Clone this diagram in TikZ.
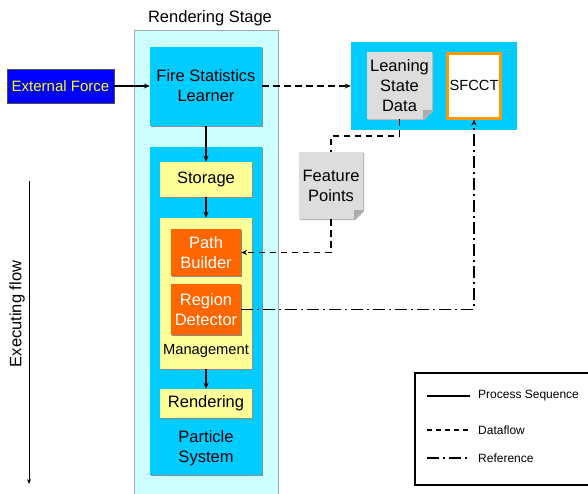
\documentclass[tikz,border=0pt]{standalone}
\usepackage{fontspec}
\setmainfont{Liberation Sans}
\usetikzlibrary{arrows.meta,shadows}
\definecolor{stagebg}{HTML}{CCFFFF}
\definecolor{cyanbox}{HTML}{00CCFF}
\definecolor{yelbox}{HTML}{FFFF99}
\definecolor{orabox}{HTML}{FF6600}
\definecolor{docgrey}{HTML}{DDDDDD}
\definecolor{foldgrey}{HTML}{AAAAAA}
\definecolor{sfcborder}{HTML}{FF9900}
\definecolor{extblue}{HTML}{0000FF}
\definecolor{extyellow}{HTML}{FFFF00}
\newcommand{\docshape}[2]{%
  \fill[black!30] ([xshift=1.2pt,yshift=-1.2pt]#1) -- ([xshift=1.2pt,yshift=-1.2pt]#2 |- #1) -- ([xshift=1.2pt,yshift=7.8pt]#2) -- ([xshift=-7.8pt,yshift=-1.2pt]#2) -- ([xshift=1.2pt,yshift=-1.2pt]#1 |- #2) -- cycle;
  \fill[docgrey] (#1) -- (#2 |- #1) -- ([yshift=9pt]#2) -- ([xshift=-9pt]#2) -- (#1 |- #2) -- cycle;
  \fill[foldgrey] ([yshift=9pt]#2) -- ([xshift=-9pt]#2) -- ([xshift=-9pt,yshift=9pt]#2) -- cycle;}
\begin{document}
\begin{tikzpicture}[x=1pt,y=-1pt,
  font=\fontsize{16.5}{20}\selectfont,
  box/.style={rectangle, inner sep=0pt, align=center},
  shad/.style={drop shadow={shadow xshift=1.3pt, shadow yshift=-1.3pt, fill=black!45, opacity=1}},
  cyanstyle/.style={box, fill=cyanbox, shad},
  yelstyle/.style={box, fill=yelbox, shad},
  orastyle/.style={box, fill=orabox, text=white, shad},
  lbl/.style={inner sep=0pt, align=center},
  proc/.style={line width=1.8pt, -{Stealth[length=6pt,width=5pt]}},
  flow/.style={line width=1.8pt, dash pattern=on 6.5pt off 4.5pt, -{Stealth[length=6pt,width=5pt]}},
  flowline/.style={line width=1.8pt, dash pattern=on 6.5pt off 4.5pt},
  refl/.style={line width=1.6pt, dash pattern=on 12pt off 4pt on 2pt off 4pt, -{Stealth[length=6pt,width=5pt]}},
  legsolid/.style={line width=1.3pt},
  legdash/.style={line width=1.3pt, dash pattern=on 5pt off 4pt},
  legref/.style={line width=1.3pt, dash pattern=on 12pt off 4pt on 2pt off 4pt},
  legtext/.style={anchor=west, inner sep=0pt, font=\fontsize{12}{14}\selectfont}
]
\useasboundingbox (0,0) rectangle (588,493);

% Rendering stage
\node[box, fill=stagebg, draw=black!35, line width=0.5pt, minimum width=144pt, minimum height=466pt] (stage) at (206,263) {};
\node[lbl] (stagelbl) at (210,18) {Rendering Stage};

% External force
\node[box, fill=extblue, draw=black!70, line width=0.6pt, text=extyellow, minimum width=107pt, minimum height=34pt, font=\fontsize{15}{18}\selectfont, shad] (ext) at (60.5,86) {External Force};

% Fire statistics learner
\node[cyanstyle, minimum width=112pt, minimum height=79pt] (fsl) at (206,86) {Fire Statistics\\Learner};

% Particle system
\node[cyanstyle, minimum width=112pt, minimum height=328pt] (ps) at (206,311) {};
\node[yelstyle, minimum width=92pt, minimum height=35pt] (sto) at (206,179.5) {\raisebox{-1.5pt}{Storage}};
\node[yelstyle, minimum width=92pt, minimum height=151pt] (mgmt) at (206,293.5) {};
\node[orastyle, minimum width=70pt, minimum height=47pt] (pb) at (206,252.5) {Path\\Builder};
\node[orastyle, minimum width=70pt, minimum height=51pt] (rd) at (206,309.5) {Region\\Detector};
\node[lbl, font=\fontsize{14.7}{17}\selectfont] (mgmtlbl) at (206,351) {Management};
\node[yelstyle, minimum width=92pt, minimum height=29pt] (ren) at (206,403.5) {\raisebox{-1.5pt}{Rendering}};
\node[lbl] (pslbl) at (206,448) {Particle\\System};

% Right cyan box
\node[box, fill=cyanbox, minimum width=166pt, minimum height=88pt] (rbox) at (434,86) {};
\coordinate (lsdnw) at (367,52);
\coordinate (lsdse) at (432,119);
\docshape{lsdnw}{lsdse}
\node[box, minimum width=65pt, minimum height=67pt] (lsd) at (399.5,85.5) {Leaning\\State\\Data};
\node[box, fill=white, draw=sfcborder, line width=3pt, minimum width=53pt, minimum height=65pt, font=\fontsize{14.7}{17}\selectfont] (sfc) at (474,85.5) {SFCCT};

% Feature points
\coordinate (fpnw) at (299,152);
\coordinate (fpse) at (363,219);
\docshape{fpnw}{fpse}
\node[box, minimum width=64pt, minimum height=67pt] (fp) at (331,185.5) {Feature\\Points};

% Connectors
\draw[proc] (ext) -- (fsl);
\draw[proc] (fsl) -- (sto);
\draw[proc] (sto) -- (mgmt);
\draw[proc] (mgmt) -- (ren);
\draw[flow] (fsl) -- (rbox);
\coordinate (j1) at (331,136);
\draw[flowline] (lsd.south) |- (j1) -- (fp.north);
\draw[flow] (fp.south) |- (pb.east);
\draw[refl] (rd.east) -| (sfc.south);

% Executing flow
\coordinate (ea) at (29,181);
\coordinate (eb) at (29,484);
\draw[line width=0.8pt, -{Stealth[length=5pt,width=4pt]}] (ea) -- (eb);
\node[lbl, rotate=90] (exlbl) at (17,314) {Executing flow};

% Legend
\node[box, draw=black, line width=2.5pt, minimum width=185pt, minimum height=112pt] (leg) at (507.5,429) {};
\coordinate (l1a) at (427,396); \coordinate (l1b) at (470,396);
\coordinate (l2a) at (427,430); \coordinate (l2b) at (470,430);
\coordinate (l3a) at (427,458); \coordinate (l3b) at (470,458);
\draw[legsolid] (l1a) -- (l1b);
\draw[legdash] (l2a) -- (l2b);
\draw[legref] (l3a) -- (l3b);
\node[legtext] (t1) at (478,396) {Process Sequence};
\node[legtext] (t2) at (478,430) {Dataflow};
\node[legtext] (t3) at (478,458) {Reference};
\end{tikzpicture}
\end{document}
